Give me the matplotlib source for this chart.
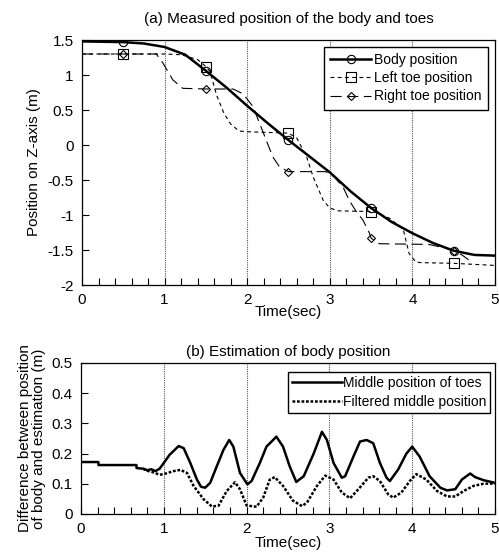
import numpy as np
import matplotlib
matplotlib.use("Agg")
import matplotlib.pyplot as plt
from matplotlib.lines import Line2D
from matplotlib.ticker import MultipleLocator, FormatStrFormatter

plt.rcParams['font.family'] = ['Liberation Sans', 'DejaVu Sans']
plt.rcParams['axes.unicode_minus'] = False

# (a) measured positions
marker_t = [0.5, 1.5, 2.5, 3.5, 4.5]

body_t = [0, 0.5, 0.75, 1.0, 1.25, 1.5, 1.75, 2.0, 2.25, 2.5, 2.75, 3.0, 3.25, 3.5,
          3.75, 4.0, 4.25, 4.5, 4.75, 5.0]
body_z = [1.48, 1.47, 1.45, 1.40, 1.29, 1.06, 0.82, 0.56, 0.31, 0.07, -0.16, -0.39,
          -0.66, -0.90, -1.10, -1.26, -1.40, -1.51, -1.57, -1.58]

left_t = [0, 0.5, 1.0, 1.2, 1.4, 1.5, 1.55, 1.63, 1.72, 1.8, 1.9, 2.0, 2.5, 2.6,
          2.72, 2.8, 2.92, 3.0, 3.1, 3.5, 3.58, 3.73, 3.89, 3.96, 4.04, 4.1, 4.5, 5.0]
left_z = [1.3, 1.3, 1.3, 1.29, 1.22, 1.12, 1.05, 0.71, 0.45, 0.3, 0.2, 0.19, 0.17,
          0.10, -0.17, -0.46, -0.79, -0.9, -0.94, -0.95, -0.97, -1.05, -1.21, -1.55,
          -1.67, -1.68, -1.69, -1.72]

right_t = [0, 0.5, 0.9, 0.98, 1.1, 1.22, 1.5, 1.83, 1.95, 2.07, 2.15, 2.23, 2.31,
           2.39, 2.5, 2.95, 3.05, 3.16, 3.24, 3.32, 3.4, 3.48, 3.5, 3.6, 4.2, 4.39,
           4.5, 4.6, 4.68]
right_z = [1.3, 1.3, 1.3, 1.17, 0.93, 0.81, 0.8, 0.8, 0.73, 0.55, 0.31, 0.07, -0.17,
           -0.31, -0.38, -0.38, -0.45, -0.6, -0.8, -0.95, -1.07, -1.26, -1.33, -1.41,
           -1.42, -1.47, -1.51, -1.57, -1.64]

# (b) estimation error
mid_t = [0, 0.21, 0.211, 0.67, 0.671, 0.75, 0.8, 0.85, 0.9, 0.95, 1.0, 1.07, 1.18,
         1.24, 1.32, 1.4, 1.45, 1.5, 1.56, 1.64, 1.72, 1.79, 1.84, 1.92, 2.01, 2.06,
         2.16, 2.24, 2.36, 2.44, 2.52, 2.6, 2.69, 2.81, 2.91, 2.97, 3.05, 3.15, 3.19,
         3.29, 3.37, 3.45, 3.53, 3.61, 3.69, 3.73, 3.83, 3.93, 4.0, 4.09, 4.21, 4.34,
         4.42, 4.52, 4.6, 4.7, 4.76, 4.86, 5.0]
mid_e = [0.172, 0.172, 0.162, 0.162, 0.152, 0.15, 0.145, 0.148, 0.142, 0.15, 0.169,
         0.196, 0.225, 0.218, 0.169, 0.114, 0.09, 0.087, 0.103, 0.158, 0.212, 0.245,
         0.223, 0.136, 0.098, 0.109, 0.169, 0.223, 0.256, 0.223, 0.158, 0.106, 0.125,
         0.2, 0.272, 0.245, 0.169, 0.12, 0.125, 0.19, 0.24, 0.245, 0.234, 0.169, 0.12,
         0.109, 0.147, 0.2, 0.223, 0.19, 0.125, 0.087, 0.078, 0.082, 0.114, 0.134,
         0.122, 0.112, 0.103]

filt_t = [0.75, 0.8, 0.85, 0.9, 0.95, 1.0, 1.12, 1.2, 1.28, 1.36, 1.48, 1.58, 1.66,
          1.76, 1.86, 1.92, 2.0, 2.12, 2.2, 2.28, 2.34, 2.44, 2.56, 2.67, 2.73, 2.85,
          2.95, 3.05, 3.15, 3.25, 3.35, 3.47, 3.53, 3.61, 3.71, 3.77, 3.87, 3.97, 4.05,
          4.17, 4.3, 4.42, 4.52, 4.62, 4.74, 4.86, 5.0]
filt_e = [0.15, 0.143, 0.14, 0.135, 0.13, 0.132, 0.142, 0.146, 0.136, 0.093, 0.049,
          0.025, 0.027, 0.076, 0.105, 0.082, 0.028, 0.024, 0.054, 0.114, 0.122, 0.093,
          0.044, 0.026, 0.038, 0.093, 0.127, 0.114, 0.071, 0.052, 0.082, 0.12, 0.125,
          0.109, 0.065, 0.054, 0.071, 0.109, 0.132, 0.114, 0.076, 0.058, 0.058, 0.076,
          0.093, 0.1, 0.101]


def marker_idx(t):
    return [i for i, v in enumerate(t) if v in marker_t]


def style_axes(ax, ylim, ystep):
    ax.set_xlim(0, 5)
    ax.set_ylim(*ylim)
    ax.xaxis.set_major_locator(MultipleLocator(1))
    ax.xaxis.set_minor_locator(MultipleLocator(0.2))
    ax.yaxis.set_major_locator(MultipleLocator(ystep))
    ax.yaxis.set_major_formatter(FormatStrFormatter('%g'))
    ax.tick_params(which='both', direction='in', top=False, right=False,
                   labelsize=11, width=0.8)
    ax.tick_params(which='major', length=5, pad=6)
    ax.tick_params(which='minor', length=5)
    for x in [1, 2, 3, 4]:
        ax.axvline(x, color='#555555', lw=0.8, ls=(0, (1, 1)), zorder=0)
    for s in ax.spines.values():
        s.set_linewidth(0.9)


fig = plt.figure(figsize=(4.99, 5.58), dpi=100)
ax1 = fig.add_axes([0.1643, 0.4892, 0.8277, 0.4391])
ax2 = fig.add_axes([0.1623, 0.0789, 0.8297, 0.2706])

ax1.plot(body_t, body_z, color='black', lw=1.8, marker='o', ms=6, mfc='none',
         mew=0.8, markevery=marker_idx(body_t), zorder=3)
ax1.plot(left_t, left_z, color='black', lw=0.8, dashes=(3.5, 3), marker='s', ms=6.5,
         mfc='none', mew=0.8, markevery=marker_idx(left_t))
ax1.plot(right_t, right_z, color='black', lw=0.8, dashes=(10, 5), marker='D', ms=4.5,
         mfc='none', mew=0.8, markevery=marker_idx(right_t))
style_axes(ax1, (-2, 1.5), 0.5)
ax1.set_title('(a) Measured position of the body and toes', fontsize=11, pad=12)
ax1.set_xlabel('Time(sec)', fontsize=11, labelpad=-2)
ax1.set_ylabel('Position on Z-axis (m)', fontsize=11, labelpad=5)

h1 = [Line2D([], [], color='black', lw=1.8, marker='o', ms=6, mfc='none', mew=0.8),
      Line2D([], [], color='black', lw=0.8, dashes=(3.5, 3), marker='s', ms=6.5,
             mfc='none', mew=0.8),
      Line2D([], [], color='black', lw=0.8, dashes=(10, 5), marker='D', ms=4.5,
             mfc='none', mew=0.8)]
leg1 = ax1.legend(h1, ['Body position', 'Left toe position', 'Right toe position'],
                  loc='upper right', bbox_to_anchor=(0.983, 0.972), fontsize=10,
                  fancybox=False, framealpha=1, edgecolor='black', handlelength=3.0,
                  handletextpad=0.2, borderpad=0.45, labelspacing=0.3,
                  borderaxespad=0)
leg1.get_frame().set_linewidth(1.0)

ax2.plot(filt_t, filt_e, color='black', lw=1.8, dashes=(1.1, 0.7),
         label='Filtered middle position', zorder=2)
ax2.plot(mid_t, mid_e, color='black', lw=1.8, label='Middle position of toes', zorder=3)
style_axes(ax2, (0, 0.5), 0.1)
ax2.set_title('(b) Estimation of body position', fontsize=11, pad=5)
ax2.set_xlabel('Time(sec)', fontsize=11, labelpad=0)
ax2.set_ylabel('Difference between position\nof body and estimation (m)', fontsize=11,
               labelpad=4, linespacing=1.0)
hs, ls = ax2.get_legend_handles_labels()
leg2 = ax2.legend(hs[::-1], ls[::-1], loc='upper right', bbox_to_anchor=(0.988, 0.94),
                  fontsize=10, fancybox=False, framealpha=1, edgecolor='black',
                  handlelength=3.6, handletextpad=0.1, borderpad=0.25,
                  labelspacing=0.4, borderaxespad=0)
leg2.get_frame().set_linewidth(1.0)

fig.savefig('out.png', dpi=100)
